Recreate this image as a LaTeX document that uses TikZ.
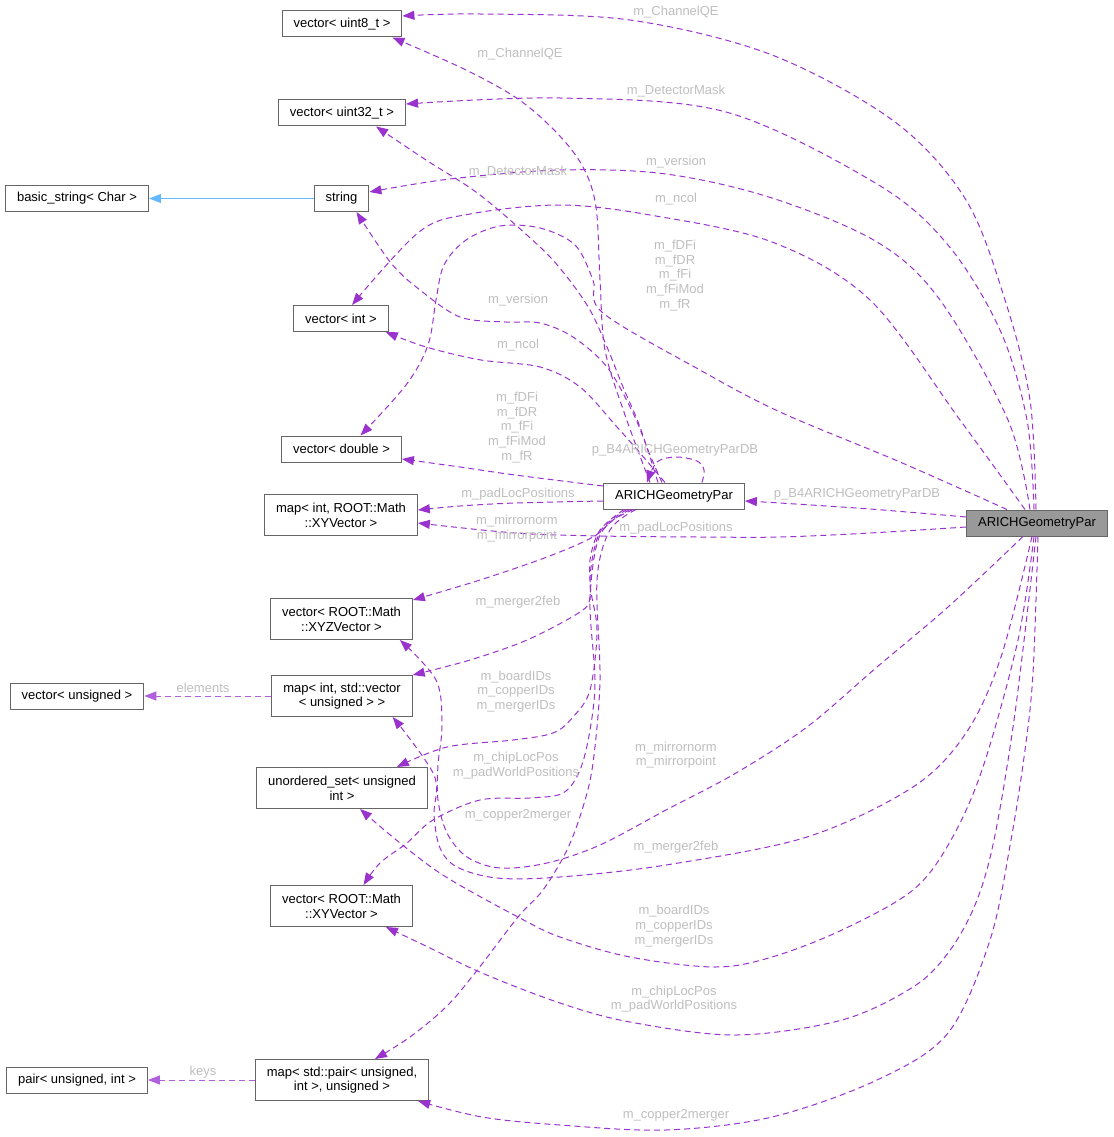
\documentclass[tikz,border=0pt]{standalone}
\usepackage{fontspec}
\setmainfont{Liberation Sans}
\usetikzlibrary{arrows.meta}
\definecolor{edgec}{HTML}{9A32CD}
\definecolor{tmplc}{HTML}{B060DC}
\definecolor{lblc}{HTML}{BEBEBE}
\definecolor{boxc}{HTML}{666666}
\definecolor{mainfill}{HTML}{999999}
\definecolor{inhc}{HTML}{63B8FF}
\begin{document}
\begin{tikzpicture}[x=1pt,y=-1pt,
  box/.style={draw=boxc, fill=white, line width=1pt, font=\fontsize{13}{14.7}\selectfont, align=center, inner xsep=11.5pt, inner ysep=2pt, minimum height=26pt},
  box2/.style={box, minimum height=41pt},
  mainbox/.style={box, fill=mainfill},
  use/.style={draw=edgec, line width=1pt, dash pattern=on 6pt off 4pt, -{Triangle[length=12pt,width=9pt]}},
  tmpl/.style={use, draw=tmplc},
  inh/.style={draw=inhc, line width=1pt, -{Triangle[length=12pt,width=9pt]}},
  lbl/.style={text=lblc, font=\fontsize{13}{14.7}\selectfont, align=center, inner sep=0pt},
  sm/.style={smooth, tension=0.55}
]
\useasboundingbox (0,0) rectangle (1113,1137);

% nodes
\node[box] (u8) at (342,24) {vector< uint8\_t >};
\node[box] (u32) at (342,113) {vector< uint32\_t >};
\node[box] (bstr) at (77,198.5) {basic\_string< Char >};
\node[box] (str) at (341.5,198.5) {string};
\node[box] (vint) at (341,318.5) {vector< int >};
\node[box] (vdbl) at (341.5,449) {vector< double >};
\node[box2] (mxy) at (341,515) {map< int, ROOT::Math\\::XYVector >};
\node[box2] (vxyz) at (341.5,619) {vector< ROOT::Math\\::XYZVector >};
\node[box] (vuns) at (77,696) {vector< unsigned >};
\node[box2] (mvec) at (342,696) {map< int, std::vector\\< unsigned > >};
\node[box2] (uset) at (342,788) {unordered\_set< unsigned\\int >};
\node[box2] (vxy) at (341.5,906) {vector< ROOT::Math\\::XYVector >};
\node[box] (pairn) at (77,1080) {pair< unsigned, int >};
\node[box2] (mpair) at (342,1080) {map< std::pair< unsigned,\\int >, unsigned >};
\node[box] (I) at (674,496) {ARICHGeometryPar};
\node[mainbox] (O) at (1037,523) {ARICHGeometryPar};

% inheritance and template edges
\draw[inh] (str.west) -- (bstr.east);
\draw[tmpl] (mvec.west) -- (vuns.east);
\draw[tmpl] (mpair.west) -- (pairn.east);

% outer edges
\draw[use] plot[sm] coordinates {([xshift=-1pt]O.north) (1030,400) (1005,300) (966,200) (895,122) (772,55) (630,20) (480,14) ([yshift=8pt]u8.east)};
\draw[use] plot[sm] coordinates {([xshift=-3pt]O.north) (1027,420) (1000,330) (948,245) (877,184) (726,112) (560,98) ([yshift=9pt]u32.east)};
\draw[use] plot[sm] coordinates {([xshift=-7pt]O.north) (1008,420) (940,300) (877,242) (772,198) (666,174) (560,170) (450,179) ([yshift=6.5pt]str.east)};
\draw[use] plot[sm] coordinates {([xshift=-12pt]O.north) (960,420) (870,300) (772,242) (650,215) (560,205) (470,214) (419,232) ([xshift=11pt]vint.north)};
\draw[use] plot[sm] coordinates {([xshift=-30pt]O.north) (900,462) (780,412) (700,370) (603,313) (593,280) (575,245) (540,228) (500,226) (466,240) (444,265) (436,300) (428,345) (406,385) ([xshift=19pt]vdbl.north)};
\draw[use] plot[sm] coordinates {([yshift=6pt]O.west) (870,509) (780,503) ([yshift=-5pt]I.east)};
\draw[use] plot[sm] coordinates {([yshift=-4pt]O.west) (870,533) (780,537) (700,537) (600,536) (515,533) ([yshift=-8pt]mxy.east)};
\draw[use] plot[sm] coordinates {([xshift=-14pt]O.south) (948,607) (877,667) (807,727) (736,773) (666,810) (600,845) (547,863) (500,868) (467,857) (447,833) (438,800) (438,765) (442,725) (436,680) ([xshift=-13pt]vxyz.south east)};
\draw[use] plot[sm] coordinates {([xshift=-5pt]O.south) (1001,657) (966,733) (913,787) (807,837) (666,865) (560,877) (497,878) (457,867) (440,848) (434,815) (434,775) ([xshift=-20pt]mvec.south east)};
\draw[use] plot[sm] coordinates {([xshift=-3pt]O.south) (1018,640) (983,767) (951,840) (913,890) (842,930) (772,957) (715,967) (630,957) (560,937) (518,917) (446,877) (400,843) ([xshift=18pt]uset.south)};
\draw[use] plot[sm] coordinates {([xshift=-1pt]O.south) (1015,713) (994,840) (975,905) (948,953) (913,987) (842,1020) (736,1035) (630,1022) (560,1003) (482,973) (428,947) ([xshift=-27pt]vxy.south east)};
\draw[use] plot[sm] coordinates {([xshift=1pt]O.south) (1033,673) (1025,750) (1011,840) (990,940) (948,1033) (877,1080) (772,1117) (666,1130) (560,1125) (482,1117) ([xshift=-11pt]mpair.south east)};

% inner edges
\draw[use] plot[sm] coordinates {([xshift=-24pt]I.north) (625,415) (605,350) (600,280) (596,207) (583,167) (557,133) (518,99) (464,69) ([xshift=-10pt]u8.south east)};
\draw[use] plot[sm] coordinates {([xshift=-16pt]I.north) (640,427) (623,387) (607,347) (590,310) (567,277) (540,247) (480,195) (426,160) ([xshift=-30pt]u32.south east)};
\draw[use] plot[sm] coordinates {([xshift=-12pt]I.north) (650,455) (633,413) (607,367) (573,337) (540,323) (505,322) (460,317) (420,290) (391,263) ([xshift=15pt]str.south)};
\draw[use] plot[sm] coordinates {([xshift=-9pt]I.north) (640,453) (617,427) (580,387) (540,367) (481,360) (426,347) ([xshift=-3pt]vint.south east)};
\draw[use] plot[sm] coordinates {([xshift=28pt]I.north) (704,470) (697,461) (676,457) (657,462) ([xshift=-27pt]I.north)};
\draw[use] plot[sm] coordinates {([yshift=10pt]I.west) (515,475) (460,467) ([yshift=-10pt]vdbl.east)};
\draw[use] plot[sm] coordinates {([yshift=-5pt]I.west) (515,503) (460,506) ([yshift=5pt]mxy.east)};
\draw[use] plot[sm] coordinates {([xshift=-41pt]I.south) (613,520) (593,537) (547,557) (480,580) ([yshift=-2pt]vxyz.north east)};
\draw[use] plot[sm] coordinates {([xshift=-50pt]I.south) (600,530) (590,560) (590,597) (580,612) (527,640) (470,660) (mvec.north east)};
\draw[use] plot[sm] coordinates {([xshift=-47pt]I.south) (600,532) (590,580) (597,630) (590,690) (573,717) (553,733) (513,740) (447,747) ([xshift=-31pt]uset.north east)};
\draw[use] plot[sm] coordinates {([xshift=-44pt]I.south) (600,535) (590,600) (595,680) (590,730) (580,770) (563,793) (530,798) (480,800) (433,820) (407,843) (380,863) ([xshift=22pt]vxy.north)};
\draw[use] plot[sm] coordinates {([xshift=-38pt]I.south) (610,530) (597,580) (600,680) (593,763) (583,807) (567,850) (543,890) (518,917) (475,973) (446,1007) (410,1037) ([xshift=33pt]mpair.north)};

% labels (outer)
\node[lbl] (lo1) at (676,12) {m\_ChannelQE};
\node[lbl] (lo2) at (676,91) {m\_DetectorMask};
\node[lbl] (lo3) at (676,162) {m\_version};
\node[lbl] (lo4) at (676,199) {m\_ncol};
\node[lbl] (lo5) at (675,275.5) {m\_fDFi\\m\_fDR\\m\_fFi\\m\_fFiMod\\m\_fR};
\node[lbl] (lo6) at (857,494) {p\_B4ARICHGeometryParDB};
\node[lbl] (lo7) at (676,528) {m\_padLocPositions};
\node[lbl] (lo8) at (676,755) {m\_mirrornorm\\m\_mirrorpoint};
\node[lbl] (lo9) at (676,847) {m\_merger2feb};
\node[lbl] (lo10) at (674,926) {m\_boardIDs\\m\_copperIDs\\m\_mergerIDs};
\node[lbl] (lo11) at (674,999) {m\_chipLocPos\\m\_padWorldPositions};
\node[lbl] (lo12) at (676,1115) {m\_copper2merger};
% labels (inner)
\node[lbl] (li1) at (520,54) {m\_ChannelQE};
\node[lbl] (li2) at (518,172) {m\_DetectorMask};
\node[lbl] (li3) at (518,300) {m\_version};
\node[lbl] (li4) at (518,345) {m\_ncol};
\node[lbl] (li5) at (517,427.5) {m\_fDFi\\m\_fDR\\m\_fFi\\m\_fFiMod\\m\_fR};
\node[lbl] (li6) at (675,450) {p\_B4ARICHGeometryParDB};
\node[lbl] (li7) at (518,494) {m\_padLocPositions};
\node[lbl] (li8) at (517,528.5) {m\_mirrornorm\\m\_mirrorpoint};
\node[lbl] (li9) at (518,602.5) {m\_merger2feb};
\node[lbl] (li10) at (516,691.5) {m\_boardIDs\\m\_copperIDs\\m\_mergerIDs};
\node[lbl] (li11) at (516,765.5) {m\_chipLocPos\\m\_padWorldPositions};
\node[lbl] (li12) at (518,815) {m\_copper2merger};
% template labels
\node[lbl] (lt1) at (203,688) {elements};
\node[lbl] (lt2) at (203,1072) {keys};
\end{tikzpicture}
\end{document}
